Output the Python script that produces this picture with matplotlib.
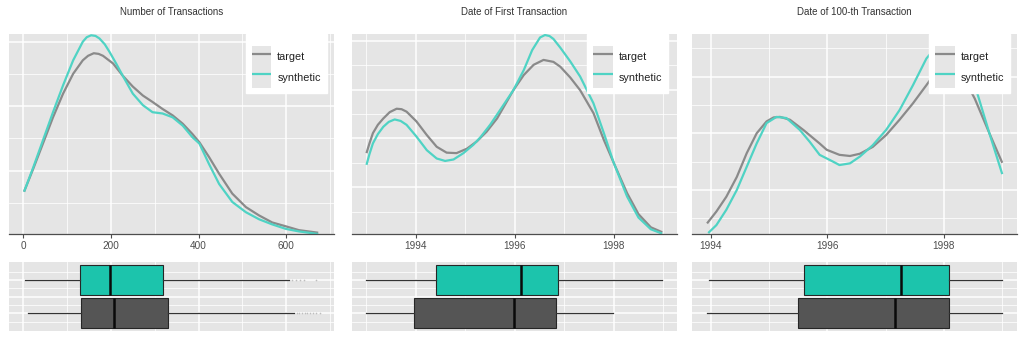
import matplotlib
matplotlib.use("Agg")
import matplotlib.pyplot as plt
from matplotlib.legend_handler import HandlerLine2D
from matplotlib.lines import Line2D
from matplotlib.patches import Rectangle

plt.rcParams['font.family'] = ['Liberation Sans', 'DejaVu Sans']

# ---------------- data ----------------
titles = ["Number of Transactions", "Date of First Transaction", "Date of 100-th Transaction"]
series_labels = ["target", "synthetic"]

# Panel 1: Number of Transactions (density, units of 1e-3)
ntx_x_target = [2, 23, 45, 68, 91, 114, 136, 148, 161, 172, 182, 205, 227, 250, 273, 295, 318, 341,
                364, 386, 402, 424, 447, 477, 508, 538, 568, 599, 629, 673]
ntx_y_target = [0.67, 1.03, 1.42, 1.83, 2.20, 2.51, 2.72, 2.79, 2.83, 2.82, 2.79, 2.67, 2.48, 2.31,
                2.17, 2.07, 1.96, 1.86, 1.73, 1.57, 1.44, 1.21, 0.95, 0.64, 0.43, 0.30, 0.19, 0.13,
                0.07, 0.03]
ntx_x_synth = [2, 23, 45, 68, 91, 114, 136, 145, 155, 165, 174, 186, 197, 212, 227, 250, 273, 295,
               318, 341, 364, 386, 402, 424, 447, 477, 508, 538, 568, 599, 629, 673]
ntx_y_synth = [0.67, 1.05, 1.47, 1.91, 2.33, 2.72, 3.01, 3.08, 3.11, 3.10, 3.06, 2.97, 2.85, 2.67,
               2.48, 2.20, 2.02, 1.91, 1.89, 1.83, 1.70, 1.52, 1.42, 1.10, 0.79, 0.51, 0.35, 0.24,
               0.16, 0.09, 0.05, 0.01]

# Panel 2: Date of First Transaction (density)
first_x_target = [1993.00, 1993.06, 1993.13, 1993.23, 1993.34, 1993.47, 1993.61, 1993.71, 1993.81,
                  1994.01, 1994.22, 1994.42, 1994.62, 1994.82, 1995.03, 1995.23, 1995.43, 1995.64,
                  1995.84, 1995.97, 1996.18, 1996.38, 1996.58, 1996.78, 1996.92, 1997.12, 1997.32,
                  1997.59, 1997.80, 1998.00, 1998.27, 1998.50, 1998.75, 1998.98]
first_y_target = [0.170, 0.190, 0.211, 0.228, 0.241, 0.254, 0.261, 0.260, 0.255, 0.235, 0.207, 0.183,
                  0.171, 0.170, 0.179, 0.194, 0.214, 0.241, 0.276, 0.299, 0.330, 0.351, 0.361, 0.357,
                  0.347, 0.325, 0.299, 0.252, 0.197, 0.150, 0.088, 0.045, 0.018, 0.008]
first_x_synth = [1993.00, 1993.06, 1993.13, 1993.23, 1993.34, 1993.45, 1993.57, 1993.69, 1993.81,
                 1994.01, 1994.22, 1994.42, 1994.59, 1994.76, 1994.96, 1995.16, 1995.30, 1995.50,
                 1995.70, 1995.97, 1996.18, 1996.35, 1996.51, 1996.61, 1996.70, 1996.78, 1996.92,
                 1997.12, 1997.32, 1997.59, 1997.80, 1998.00, 1998.27, 1998.50, 1998.75, 1998.98]
first_y_synth = [0.146, 0.168, 0.190, 0.209, 0.224, 0.234, 0.239, 0.236, 0.228, 0.204, 0.176, 0.159,
                 0.154, 0.157, 0.170, 0.187, 0.202, 0.228, 0.258, 0.299, 0.340, 0.381, 0.407, 0.412,
                 0.410, 0.404, 0.386, 0.358, 0.327, 0.272, 0.211, 0.150, 0.081, 0.038, 0.014, 0.005]

# Panel 3: Date of 100-th Transaction (density)
hund_x_target = [1993.94, 1994.10, 1994.27, 1994.45, 1994.62, 1994.79, 1994.96, 1995.08, 1995.19,
                 1995.36, 1995.59, 1995.87, 1995.99, 1996.21, 1996.39, 1996.56, 1996.78, 1997.01,
                 1997.24, 1997.47, 1997.70, 1998.01, 1998.27, 1998.53, 1998.78, 1999.00]
hund_y_target = [0.041, 0.062, 0.088, 0.123, 0.165, 0.200, 0.221, 0.228, 0.229, 0.224, 0.206, 0.182,
                 0.171, 0.162, 0.160, 0.164, 0.176, 0.197, 0.224, 0.253, 0.285, 0.329, 0.312, 0.261,
                 0.200, 0.148]
hund_x_synth = [1993.96, 1994.10, 1994.27, 1994.45, 1994.62, 1994.79, 1994.96, 1995.13, 1995.30,
                1995.53, 1995.70, 1995.87, 1996.10, 1996.21, 1996.39, 1996.56, 1996.78, 1997.01,
                1997.24, 1997.47, 1997.70, 1998.01, 1998.27, 1998.53, 1998.78, 1999.00]
hund_y_synth = [0.024, 0.038, 0.065, 0.100, 0.141, 0.182, 0.218, 0.229, 0.227, 0.206, 0.185, 0.162,
                0.150, 0.144, 0.147, 0.159, 0.179, 0.206, 0.241, 0.285, 0.332, 0.370, 0.347, 0.285,
                0.200, 0.128]

# Boxplot summaries: [whisker low, Q1, median, Q3, whisker high]
ntx_box_target = [10, 133, 208, 330, 618]
ntx_box_synth = [4, 129, 199, 320, 606]
ntx_fliers_target = [624, 630, 636, 642, 648, 655, 662, 669, 676]
ntx_fliers_synth = [614, 622, 632, 641, 668]
first_box_target = [1993.00, 1993.97, 1995.99, 1996.83, 1997.99]
first_box_synth = [1993.00, 1994.41, 1996.13, 1996.87, 1998.97]
hund_box_target = [1993.94, 1995.50, 1997.16, 1998.08, 1998.99]
hund_box_synth = [1993.97, 1995.61, 1997.27, 1998.08, 1998.99]

# axis ticks
ntx_major = [0, 200, 400, 600]
ntx_minor = [100, 300, 500, 700]
year_major = [1994, 1996, 1998]
year_minor = [1993, 1995, 1997, 1999]

# ---------------- style ----------------
W, H = 1024, 341
PANEL_BG = '#E5E5E5'
KEY_BG = '#E6E6E6'
C_TARGET = '#8A8A8A'
C_SYNTH = '#4FD3C4'
BOX_TARGET = '#555555'
BOX_SYNTH = '#1CC4AC'


class KeyBgHandler(HandlerLine2D):
    def create_artists(self, legend, orig_handle, xdescent, ydescent, width, height, fontsize, trans):
        bg = Rectangle((-xdescent, -ydescent - 0.5), width, height + 1.0, facecolor=KEY_BG,
                       edgecolor='none', transform=trans, zorder=0)
        arts = super().create_artists(legend, orig_handle, xdescent, ydescent, width, height,
                                      fontsize, trans)
        return [bg] + list(arts)


fig = plt.figure(figsize=(W / 100, H / 100), dpi=100)

panels_px = [(9.3, 325.0), (351.7, 325.3), (692.3, 324.7)]
top_y = (34.0, 234.0)
box_y = (262.3, 330.7)

dens = [
    (ntx_x_target, ntx_y_target, ntx_x_synth, ntx_y_synth),
    (first_x_target, first_y_target, first_x_synth, first_y_synth),
    (hund_x_target, hund_y_target, hund_x_synth, hund_y_synth),
]
boxes = [
    (ntx_box_target, ntx_box_synth, ntx_fliers_target, ntx_fliers_synth),
    (first_box_target, first_box_synth, [], []),
    (hund_box_target, hund_box_synth, [], []),
]
ylims = [(0.01, 3.13), (0.0043, 0.4141), (0.0223, 0.3753)]
ygrid_major = [[1.0, 2.0, 3.0], [0.1, 0.2, 0.3, 0.4], [0.1, 0.2, 0.3]]
ygrid_minor = [[0.5, 1.5, 2.5], [0.05, 0.15, 0.25, 0.35], [0.05, 0.15, 0.25, 0.35]]
xmajors = [ntx_major, year_major, year_major]
xminors = [ntx_minor, year_minor, year_minor]
legend_right_px = [326.7, 668.3, 1010.0]


def style_grid(ax, xmaj, xmin, ymaj, ymin):
    ax.set_facecolor(PANEL_BG)
    ax.set_xticks(xmaj)
    ax.set_xticks(xmin, minor=True)
    ax.set_yticks(ymaj)
    ax.set_yticks(ymin, minor=True)
    ax.grid(which='major', color='white', lw=1.1)
    ax.grid(which='minor', color='white', lw=0.55)
    ax.set_axisbelow(True)
    ax.tick_params(axis='y', which='both', length=0, labelleft=False)
    ax.tick_params(axis='x', which='minor', length=0)
    for s in ['top', 'right', 'left']:
        ax.spines[s].set_visible(False)


for i in range(3):
    lpx, wpx = panels_px[i]
    left = lpx / W
    width = wpx / W
    # --- density panel
    ax = fig.add_axes([left, 1 - top_y[1] / H, width, (top_y[1] - top_y[0]) / H])
    xt, yt, xs, ys = dens[i]
    bt, bs, ft, fs = boxes[i]
    allx = list(xt) + list(xs) + list(bt) + list(bs) + list(ft) + list(fs)
    lo, hi = min(allx), max(allx)
    pad = 0.05 * (hi - lo)
    xlim = (lo - pad, hi + pad)

    style_grid(ax, xmajors[i], xminors[i], ygrid_major[i], ygrid_minor[i])
    l1, = ax.plot(xt, yt, color=C_TARGET, lw=1.6, solid_capstyle='butt',
                  solid_joinstyle='round', label=series_labels[0])
    l2, = ax.plot(xs, ys, color=C_SYNTH, lw=1.6, solid_capstyle='butt',
                  solid_joinstyle='round', label=series_labels[1])
    ax.set_xlim(*xlim)
    ax.set_ylim(*ylims[i])
    ax.spines['bottom'].set_color('#4D4D4D')
    ax.spines['bottom'].set_linewidth(0.9)
    ax.tick_params(axis='x', which='major', length=3, width=0.8, color='#4D4D4D',
                   labelsize=7.2, labelcolor='#4D4D4D', pad=2)
    ax.set_xticklabels([str(v) for v in xmajors[i]])
    ax.set_title(titles[i], fontsize=7, color='#333333', pad=14)

    frac = (legend_right_px[i] - lpx) / wpx
    leg = ax.legend(handles=[l1, l2], labels=series_labels, loc='upper right',
                    bbox_to_anchor=(frac, 1.0), borderaxespad=0, frameon=True, fancybox=False,
                    framealpha=1, edgecolor='white', facecolor='white', fontsize=7.8,
                    handlelength=1.8, handleheight=2.5, handletextpad=0.55, labelspacing=0,
                    borderpad=0.55, title=' ', title_fontsize=6,
                    handler_map={Line2D: KeyBgHandler()})
    for t in leg.get_texts():
        t.set_color('#222222')

    # --- boxplot panel
    bx = fig.add_axes([left, 1 - box_y[1] / H, width, (box_y[1] - box_y[0]) / H])
    style_grid(bx, xmajors[i], xminors[i], [1.0, 1.5, 2.0], [0.75, 1.25, 1.75, 2.25])
    bx.spines['bottom'].set_visible(False)
    bx.tick_params(axis='x', which='both', length=0, labelbottom=False)
    stats = []
    for summ, fl, lab in [(bt, ft, series_labels[0]), (bs, fs, series_labels[1])]:
        stats.append(dict(whislo=summ[0], q1=summ[1], med=summ[2], q3=summ[3],
                          whishi=summ[4], fliers=fl, label=lab))
    res = bx.bxp(stats, positions=[1, 2], widths=0.9, orientation='horizontal',
                 patch_artist=True, showcaps=False, manage_ticks=False,
                 boxprops=dict(edgecolor='#262626', linewidth=0.8),
                 whiskerprops=dict(color='#333333', linewidth=0.9),
                 medianprops=dict(color='#0A0A0A', linewidth=1.8),
                 flierprops=dict(marker='o', markersize=1.2, markerfacecolor='#BDBDBD',
                                 markeredgecolor='none', linestyle='none'))
    res['boxes'][0].set_facecolor(BOX_TARGET)
    res['boxes'][1].set_facecolor(BOX_SYNTH)
    bx.set_xlim(*xlim)
    bx.set_ylim(0.48, 2.53)

fig.savefig('out.png', dpi=100, facecolor='white')
